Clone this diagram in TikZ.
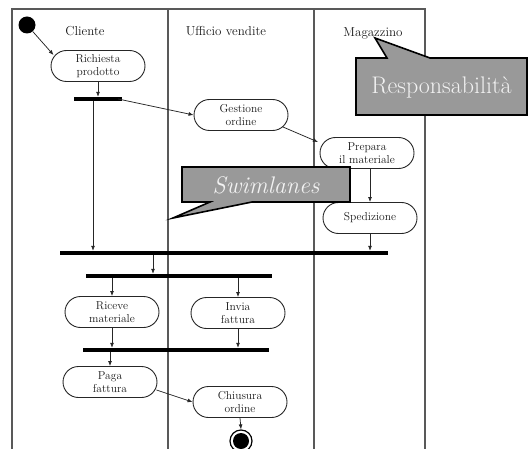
\documentclass[tikz,border=0pt]{standalone}
\usetikzlibrary{arrows.meta,shapes.misc,calc}
\begin{document}
\begin{tikzpicture}[x=1pt,y=-1pt,
  lane/.style={draw=black!65,line width=1.1pt},
  act/.style={rounded rectangle,draw=black!85,line width=0.9pt,minimum width=96pt,minimum height=31pt,inner sep=1pt,align=center,font=\fontsize{11.5}{12.5}\selectfont,text=black!90},
  bar/.style={rectangle,fill=black,inner sep=0pt,minimum height=4pt},
  title/.style={font=\fontsize{13}{14}\selectfont,text=black!90},
  flow/.style={draw=black!85,line width=0.75pt,-{Latex[length=5pt,width=4pt]}},
  callout/.style={fill=black!40,draw=black,line width=1.6pt,line join=miter},
  calltext/.style={text=white!95!black,font=\fontsize{24}{26}\selectfont}]
\useasboundingbox (0,0) rectangle (532,449);
% swimlane frame
\draw[lane] (12,449) -- (12,9) -- (425,9) -- (425,449);
\draw[lane] (168,9) -- (168,449);
\draw[lane] (314,9) -- (314,449);
\node[title] (tcli) at (85,31) {Cliente};
\node[title] (tuff) at (226,31) {Ufficio vendite};
\node[title] (tmag) at (373,33) {Magazzino};
% nodes
\node[circle,fill=black,minimum size=17pt,inner sep=0pt] (start) at (27,25) {};
\node[act] (rich) at (98,66) {Richiesta\\prodotto};
\node[bar,minimum width=48pt] (bar1) at (98,99) {};
\node[act] (gest) at (241,115) {Gestione\\ordine};
\node[act] (prep) at (367,153) {Prepara\\il materiale};
\node[act] (sped) at (370,218) {Spedizione};
\node[bar,minimum width=328pt] (bar2) at (224,253) {};
\node[bar,minimum width=186pt] (bar3) at (179,276) {};
\node[act] (rece) at (112,312) {Riceve\\materiale};
\node[act] (invi) at (238,313) {Invia\\fattura};
\node[bar,minimum width=186pt] (bar4) at (176,350) {};
\node[act] (paga) at (110,382) {Paga\\fattura};
\node[act] (chiu) at (240,402) {Chiusura\\ordine};
\node[circle,draw=black,line width=1.2pt,fill=white,minimum size=22pt,inner sep=0pt] (fine) at (241,441) {};
\node[circle,fill=black,minimum size=16pt,inner sep=0pt] (finein) at (fine.center) {};
% connectors
\draw[flow] (start) -- ($(rich.west)+(3,-11)$);
\draw[flow] (rich.south) -- (bar1.north);
\coordinate (b1d) at ($(bar1.south)+(-5,0)$);
\draw[flow] (b1d) -- (b1d |- bar2.north);
\draw[flow] ($(bar1.east)+(-4,0)$) -- (gest.west);
\draw[flow] ($(gest.center)+(42,12)$) -- ($(prep.center)+(-49,-11)$);
\draw[flow] (prep.south -| sped.north) -- (sped.north);
\draw[flow] (sped.south) -- (sped.south |- bar2.north);
\coordinate (b2d) at (153,255);
\draw[flow] (b2d) -- (b2d |- bar3.north);
\draw[flow] (rece.north |- bar3.south) -- (rece.north);
\draw[flow] (invi.north |- bar3.south) -- (invi.north);
\draw[flow] (rece.south) -- (rece.south |- bar4.north);
\draw[flow] (invi.south) -- (invi.south |- bar4.north);
\draw[flow] (paga.north |- bar4.south) -- (paga.north);
\draw[flow] ($(paga.east)+(-1,8)$) -- (chiu.west);
\draw[flow] (chiu.south) -- (fine.north);
% callouts
\draw[callout] (356,58) -- (387,58) -- (375,38) -- (430,58) -- (527,58) -- (527,115) -- (356,115) -- cycle;
\node[calltext] (resp) at (441.5,87) {Responsabilità};
\draw[callout] (182,167) -- (350,167) -- (350,202) -- (252,202) -- (173,218) -- (210,202) -- (182,202) -- cycle;
\node[calltext] (swim) at (266,185) {\itshape Swimlanes};
\end{tikzpicture}
\end{document}
